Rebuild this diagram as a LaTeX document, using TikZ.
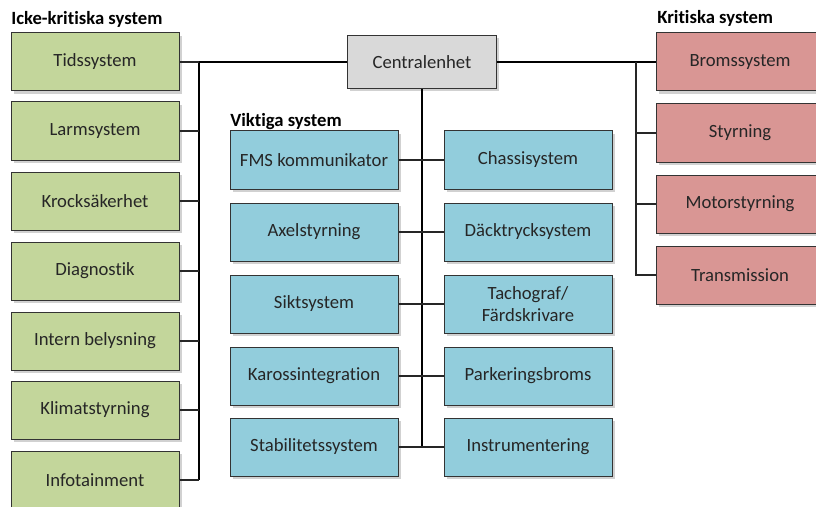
\documentclass[tikz,border=0pt]{standalone}
\usepackage{fontspec}
\setmainfont[Ligatures={NoCommon,NoRequired,NoContextual}, Contextuals=NoAlternate]{Carlito}
\usepackage{tikz}
\usetikzlibrary{shadows,positioning}
\definecolor{gron}{HTML}{C3D69B}
\definecolor{rod}{HTML}{D99694}
\definecolor{bla}{HTML}{92CDDC}
\definecolor{gra}{HTML}{D9D9D9}

\begin{document}
\begin{tikzpicture}[
		x=0.75pt, y=-0.75pt,
		box/.style={rectangle, draw=black!80, line width=0.75pt, minimum width=126pt, minimum height=43.5pt,
			text=black!85, font=\fontsize{14}{17}\selectfont, align=center,
			drop shadow={shadow xshift=2pt, shadow yshift=-2pt, fill=black!45, opacity=0.4}},
		grbox/.style={box, fill=gron},
		rdbox/.style={box, fill=rod},
		blbox/.style={box, fill=bla},
		rubrik/.style={anchor=base west, inner sep=0pt, font=\fontsize{14}{17}\selectfont\bfseries},
		trunk/.style={draw=black, line width=1.5pt},
		gren/.style={draw=black!85, line width=0.9pt}
		]
		\clip (0,0) rectangle (816,506);
		
		% Rubriker
		\node[rubrik] (icke) at (11,25) {Icke-kritiska system};
		\node[rubrik] (krit) at (657,24) {Kritiska system};
		\node[rubrik] (vikt) at (230,127) {Viktiga system};
		
		% Centralenheten
		\node[box, fill=gra, minimum width=111.75pt, minimum height=39.75pt] (central) at (422,62) {Centralenhet};
		
		% Icke-kritiska system
		\node[grbox] (tid) at (95,62) {Tidssystem};
		\node[grbox] (larm) at (95,131) {Larmsystem};
		\node[grbox] (krock) at (95,201) {Krocksäkerhet};
		\node[grbox] (diag) at (95,271) {Diagnostik};
		\node[grbox] (intern) at (95,341) {Intern belysning};
		\node[grbox] (klimat) at (95,410) {Klimatstyrning};
		\node[grbox] (info) at (95,480) {Infotainment};
		
		% Kritiska system
		\node[rdbox] (broms) at (740,62) {Bromssystem};
		\node[rdbox] (styr) at (740,133) {Styrning};
		\node[rdbox] (motor) at (740,204) {Motorstyrning};
		\node[rdbox] (trans) at (740,275) {Transmission};
		
		% Viktiga system
		\node[blbox] (fms) at (314,160) {FMS kommunikator};
		\node[blbox] (axel) at (314,232) {Axelstyrning};
		\node[blbox] (sikt) at (314,304) {Siktsystem};
		\node[blbox] (kaross) at (314,376) {Karossintegration};
		\node[blbox] (stab) at (314,447) {Stabilitetssystem};
		\node[blbox] (chassi) at (528,160) {Chassisystem};
		\node[blbox] (dack) at (528,232) {Däcktrycksystem};
		\node[blbox] (tacho) at (528,304) {Tachograf/\\Färdskrivare};
		\node[blbox] (park) at (528,376) {Parkeringsbroms};
		\node[blbox] (instr) at (528,447) {Instrumentering};
		
		% Bussar
		\coordinate (vbus) at (199,0);
		\coordinate (hbus) at (636,0);
		
		% Vänster gren
		\draw[trunk] (central.west) -- (central.west -| vbus) -- (info.east -| vbus);
		\draw[gren] (tid.east) -- (tid.east -| vbus);
		\draw[gren] (larm.east) -- (larm.east -| vbus);
		\draw[gren] (krock.east) -- (krock.east -| vbus);
		\draw[gren] (diag.east) -- (diag.east -| vbus);
		\draw[gren] (intern.east) -- (intern.east -| vbus);
		\draw[gren] (klimat.east) -- (klimat.east -| vbus);
		\draw[gren] (info.east) -- (info.east -| vbus);
		
		% Höger gren
		\draw[trunk] (central.east) -- (broms.west);
		\draw[gren] (broms.west -| hbus) -- (trans.west -| hbus) -- (trans.west);
		\draw[gren] (styr.west) -- (styr.west -| hbus);
		\draw[gren] (motor.west) -- (motor.west -| hbus);
		
		% Mittre gren
		\draw[trunk] (central.south) -- (central.south |- instr.west);
		\draw[gren] (fms.east) -- (chassi.west);
		\draw[gren] (axel.east) -- (dack.west);
		\draw[gren] (sikt.east) -- (tacho.west);
		\draw[gren] (kaross.east) -- (park.west);
		\draw[gren] (stab.east) -- (instr.west);
	\end{tikzpicture}
\end{document}
